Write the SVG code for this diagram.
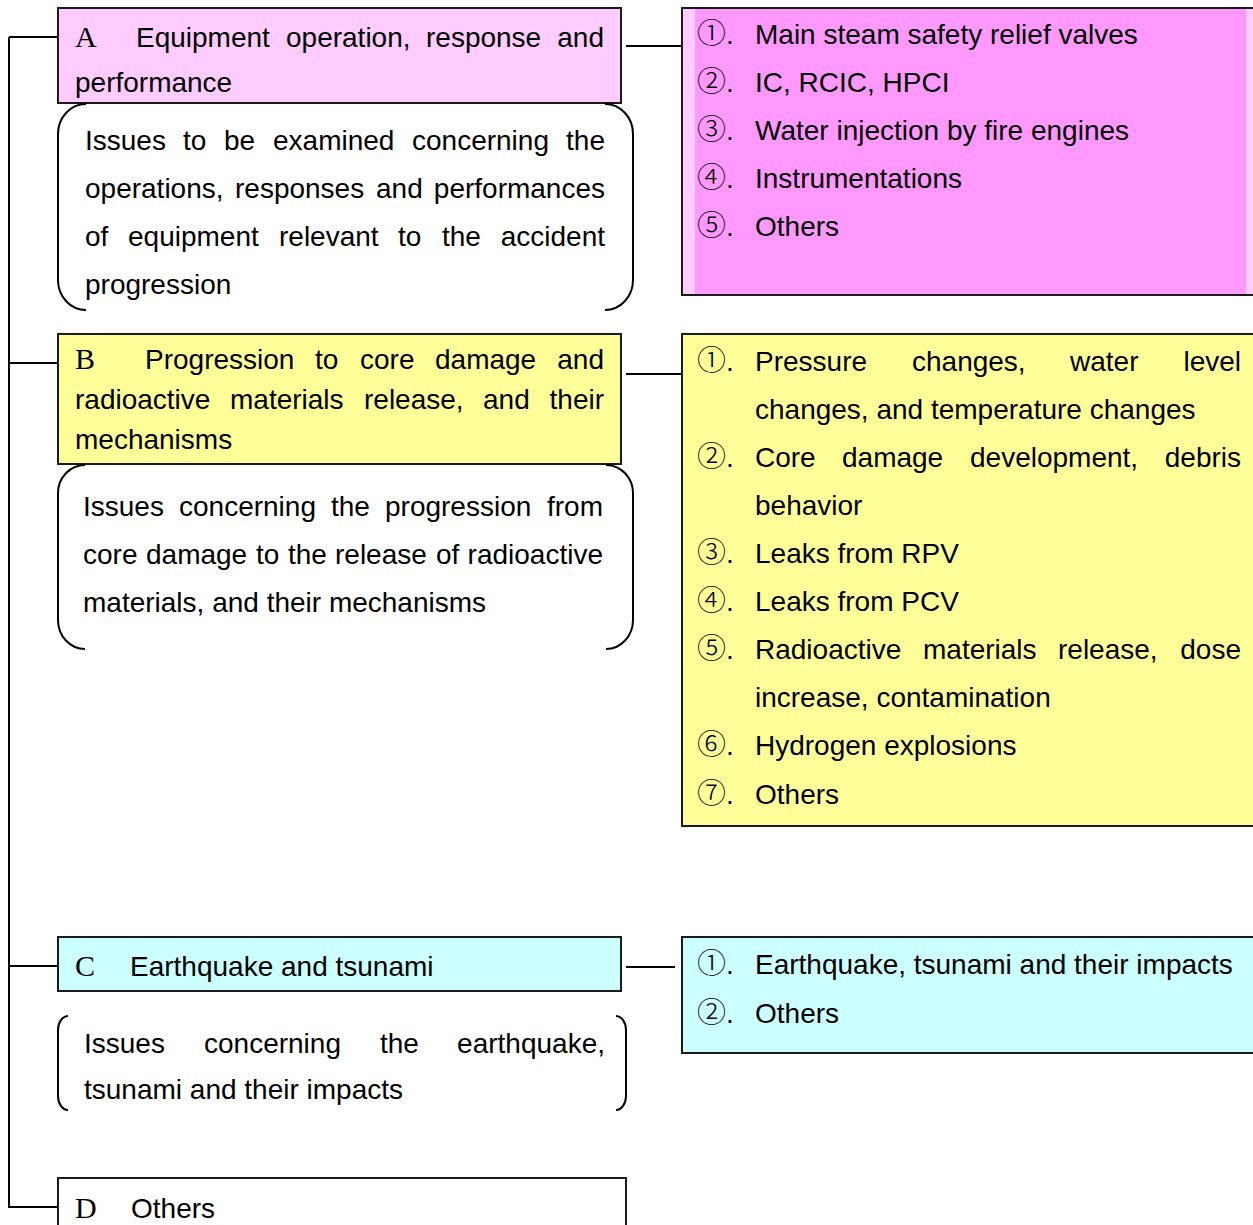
<svg xmlns="http://www.w3.org/2000/svg" width="1253" height="1225" viewBox="0 0 1253 1225">
<style>
text{font-family:"Liberation Sans",Arial,"Noto Sans CJK JP",sans-serif;font-size:28px;fill:#000}
.L{font-family:"Liberation Serif","Times New Roman",serif;font-size:30px}
.n{font-family:"Noto Sans CJK JP","DejaVu Sans",sans-serif;font-size:29px;font-weight:300}
.e{text-anchor:end}
.box{stroke:#1a1a1a;stroke-width:2}
.br{fill:none;stroke:#000;stroke-width:2}
.ln{fill:none;stroke:#000;stroke-width:2}
</style>
<rect width="1253" height="1225" fill="#fff"/>

<g id="connectors">
<path class="ln" d="M9 37V1208M9 37H58M9 363H58M9 966H58M9 1207H58"/>
<path class="ln" d="M626 46H682M626 374H682M626 967H675"/>
</g>

<g id="nodeA">
<rect class="box" x="58" y="8" width="563" height="95" fill="#ffccff"/>
<text class="L" x="75" y="47">A</text>
<text x="136" y="47">Equipment</text><text x="286" y="47">operation,</text><text x="426" y="47">response</text><text class="e" x="604" y="47">and</text>
<text x="75" y="92">performance</text>
</g>

<g id="bracketA">
<path class="br" d="M86 104A28 30 0 0 0 58 134V280A28 30 0 0 0 86 310"/>
<path class="br" d="M605 104A28 30 0 0 1 633 134V280A28 30 0 0 1 605 310"/>
<text x="85" y="150">Issues</text><text x="183" y="150">to</text><text x="224" y="150">be</text><text x="273" y="150">examined</text><text x="412" y="150">concerning</text><text class="e" x="605" y="150">the</text>
<text x="85" y="198">operations,</text><text x="235" y="198">responses</text><text x="376" y="198">and</text><text class="e" x="605" y="198">performances</text>
<text x="85" y="246">of</text><text x="128" y="246">equipment</text><text x="279" y="246">relevant</text><text x="398" y="246">to</text><text x="442" y="246">the</text><text class="e" x="605" y="246">accident</text>
<text x="85" y="294">progression</text>
</g>

<g id="listA">
<rect class="box" x="682" y="8" width="600" height="287" fill="#ff99ff"/>
<rect x="683" y="9" width="12" height="285" fill="#ffccff"/>
<rect x="1246" y="9" width="7" height="285" fill="#ffccff"/>
<text x="697" y="44"><tspan class="n">①</tspan>.</text><text x="755" y="44">Main steam safety relief valves</text>
<text x="697" y="92"><tspan class="n">②</tspan>.</text><text x="755" y="92">IC, RCIC, HPCI</text>
<text x="697" y="140"><tspan class="n">③</tspan>.</text><text x="755" y="140">Water injection by fire engines</text>
<text x="697" y="188"><tspan class="n">④</tspan>.</text><text x="755" y="188">Instrumentations</text>
<text x="697" y="236"><tspan class="n">⑤</tspan>.</text><text x="755" y="236">Others</text>
</g>

<g id="nodeB">
<rect class="box" x="58" y="334" width="563" height="130" fill="#ffff99"/>
<text class="L" x="75" y="369">B</text>
<text x="145" y="369">Progression</text><text x="315" y="369">to</text><text x="360" y="369">core</text><text x="435" y="369">damage</text><text class="e" x="604" y="369">and</text>
<text x="75" y="409">radioactive</text><text x="230" y="409">materials</text><text x="364" y="409">release,</text><text x="483" y="409">and</text><text class="e" x="604" y="409">their</text>
<text x="75" y="449">mechanisms</text>
</g>

<g id="bracketB">
<path class="br" d="M85 465A27 28 0 0 0 58 493V620A27 29 0 0 0 85 649"/>
<path class="br" d="M606 465A27 28 0 0 1 633 493V620A27 29 0 0 1 606 649"/>
<text x="83" y="516">Issues</text><text x="179" y="516">concerning</text><text x="331" y="516">the</text><text x="385" y="516">progression</text><text class="e" x="603" y="516">from</text>
<text x="83" y="564">core</text><text x="146" y="564">damage</text><text x="256" y="564">to</text><text x="288" y="564">the</text><text x="335" y="564">release</text><text x="436" y="564">of</text><text class="e" x="603" y="564">radioactive</text>
<text x="83" y="612">materials, and their mechanisms</text>
</g>

<g id="listB">
<rect class="box" x="682" y="334" width="600" height="492" fill="#ffff99"/>
<text x="697" y="371"><tspan class="n">①</tspan>.</text>
<text x="755" y="371">Pressure</text><text x="912" y="371">changes,</text><text x="1070" y="371">water</text><text class="e" x="1241" y="371">level</text>
<text x="755" y="419">changes, and temperature changes</text>
<text x="697" y="467"><tspan class="n">②</tspan>.</text>
<text x="755" y="467">Core</text><text x="842" y="467">damage</text><text x="970" y="467">development,</text><text class="e" x="1241" y="467">debris</text>
<text x="755" y="515">behavior</text>
<text x="697" y="563"><tspan class="n">③</tspan>.</text><text x="755" y="563">Leaks from RPV</text>
<text x="697" y="611"><tspan class="n">④</tspan>.</text><text x="755" y="611">Leaks from PCV</text>
<text x="697" y="659"><tspan class="n">⑤</tspan>.</text>
<text x="755" y="659">Radioactive</text><text x="923" y="659">materials</text><text x="1058" y="659">release,</text><text class="e" x="1241" y="659">dose</text>
<text x="755" y="707">increase, contamination</text>
<text x="697" y="755"><tspan class="n">⑥</tspan>.</text><text x="755" y="755">Hydrogen explosions</text>
<text x="697" y="804"><tspan class="n">⑦</tspan>.</text><text x="755" y="804">Others</text>
</g>

<g id="nodeC">
<rect class="box" x="58" y="937" width="563" height="54" fill="#ccffff"/>
<text class="L" x="75" y="976">C</text>
<text x="130" y="976">Earthquake and tsunami</text>
</g>

<g id="bracketC">
<path class="br" d="M68 1016A10 14 0 0 0 58 1030V1096A10 14 0 0 0 68 1110"/>
<path class="br" d="M616 1016A10 14 0 0 1 626 1030V1096A10 14 0 0 1 616 1110"/>
<text x="84" y="1053">Issues</text><text x="204" y="1053">concerning</text><text x="380" y="1053">the</text><text class="e" x="605" y="1053">earthquake,</text>
<text x="84" y="1099">tsunami and their impacts</text>
</g>

<g id="listC">
<rect class="box" x="682" y="937" width="600" height="116" fill="#ccffff"/>
<text x="697" y="974"><tspan class="n">①</tspan>.</text><text x="755" y="974">Earthquake, tsunami and their impacts</text>
<text x="697" y="1023"><tspan class="n">②</tspan>.</text><text x="755" y="1023">Others</text>
</g>

<g id="nodeD">
<rect class="box" x="58" y="1178" width="568" height="60" fill="#fff"/>
<text class="L" x="75" y="1218">D</text>
<text x="131" y="1218">Others</text>
</g>
</svg>
